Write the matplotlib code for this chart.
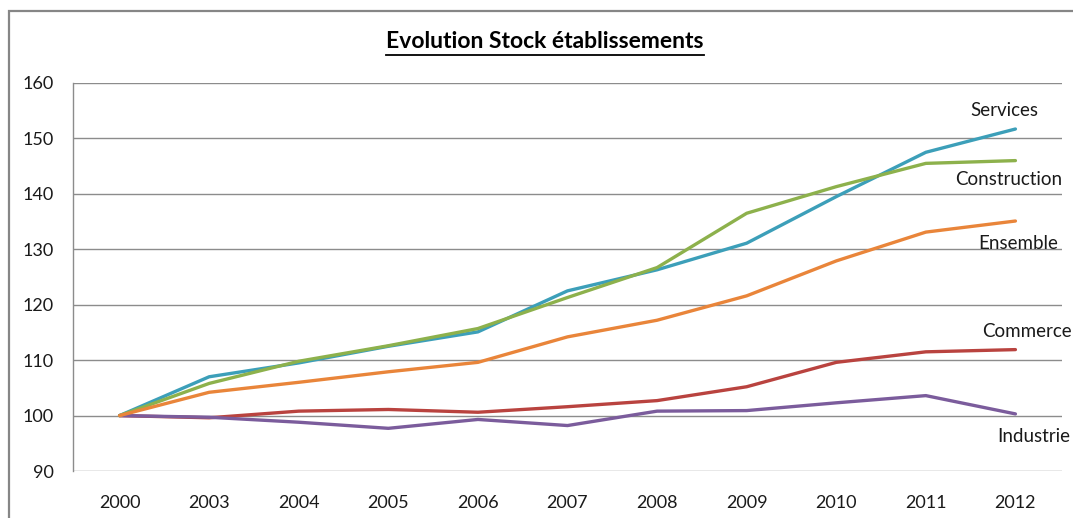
import matplotlib.pyplot as plt
from matplotlib.patches import Rectangle
from matplotlib.lines import Line2D

years = ['2000', '2003', '2004', '2005', '2006', '2007', '2008', '2009', '2010', '2011', '2012']

commerce = [100, 99.6, 100.8, 101.1, 100.6, 101.6, 102.7, 105.2, 109.6, 111.5, 111.9]
industrie = [100, 99.7, 98.8, 97.7, 99.3, 98.2, 100.8, 100.9, 102.3, 103.6, 100.3]
construction = [100, 105.8, 109.8, 112.6, 115.7, 121.3, 126.7, 136.5, 141.3, 145.5, 146.0]
services = [100, 107.0, 109.5, 112.5, 115.1, 122.5, 126.3, 131.1, 139.5, 147.5, 151.7]
ensemble = [100, 104.2, 106.0, 107.9, 109.6, 114.2, 117.2, 121.6, 127.9, 133.1, 135.1]

series = [
    ('Commerce', commerce, '#b9433f'),
    ('Industrie', industrie, '#7b5c9c'),
    ('Services', services, '#3c9fb9'),
    ('Construction', construction, '#8db14c'),
    ('Ensemble', ensemble, '#e9853a'),
]

# label anchors (category index, value, horizontal alignment)
label_pos = {
    'Services': (9.88, 155.1, 'center'),
    'Construction': (9.92, 142.5, 'center'),
    'Ensemble': (10.03, 131.1, 'center'),
    'Commerce': (9.63, 115.1, 'left'),
    'Industrie': (9.8, 96.3, 'left'),
}

plt.rcParams['font.family'] = ['Lato', 'DejaVu Sans']

W, H = 1073, 518
fig = plt.figure(figsize=(W / 100, H / 100), dpi=100)
ax = fig.add_axes([73 / W, 47 / H, (1062 - 73) / W, (471 - 83) / H])

x = list(range(len(years)))
for name, vals, col in series:
    ax.plot(x, vals, color=col, linewidth=2.4, solid_capstyle='round', zorder=3)
    lx, ly, ha = label_pos[name]
    ax.text(lx, ly, name, ha=ha, va='center', fontsize=13.5, color='#1a1a1a',
            clip_on=False)

ax.set_xlim(-0.52, len(years) - 0.48)
ax.set_ylim(90, 160)
ax.set_yticks(range(90, 161, 10))
ax.set_xticks(x)
ax.set_xticklabels(years)
ax.tick_params(length=0, labelsize=13, colors='#1a1a1a')
ax.tick_params(axis='x', pad=17)
ax.tick_params(axis='y', pad=14)
ax.grid(axis='y', color='#8c8c8c', linewidth=1)
for s in ['top', 'right', 'bottom']:
    ax.spines[s].set_visible(False)
ax.spines['left'].set_color('#8c8c8c')
ax.spines['left'].set_linewidth(1)
ax.set_axisbelow(True)

# chart border
fig.patches.append(Rectangle((9 / W, -0.1), 1.2, (H - 11) / H + 0.1,
                             transform=fig.transFigure, fill=False,
                             edgecolor='#868686', linewidth=1.6))

title = fig.text(545 / W, (H - 42) / H, 'Evolution Stock établissements',
                 ha='center', va='center', fontsize=16.5, fontweight='bold')
fig.canvas.draw()
bb = title.get_window_extent().transformed(fig.transFigure.inverted())
fig.lines.append(Line2D([bb.x0, bb.x1], [bb.y0 - 0.004, bb.y0 - 0.004],
                        transform=fig.transFigure, color='black', linewidth=1.3))

fig.savefig('out.png', dpi=100)
